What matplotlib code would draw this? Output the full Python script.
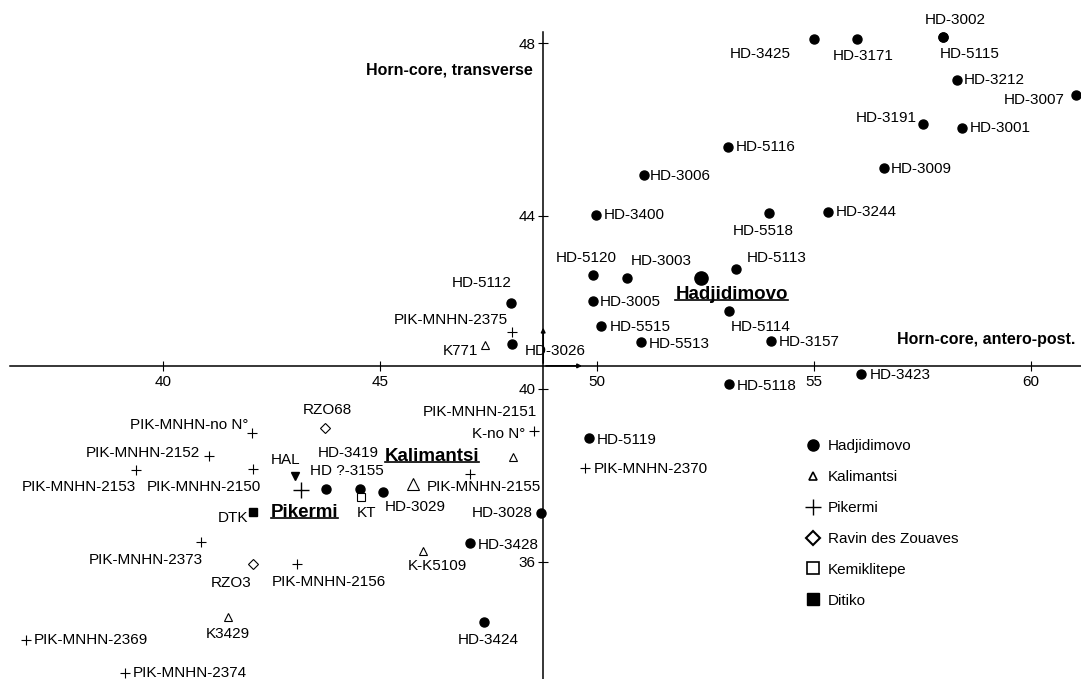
import matplotlib
matplotlib.use('Agg')
import matplotlib.pyplot as plt
from matplotlib.lines import Line2D

plt.rcParams['font.family'] = ['Liberation Sans', 'DejaVu Sans']

size = 11

# Hadjidimovo
hd_names = ['HD-3425', 'HD-3171', 'HD-3002', 'HD-5115', 'HD-3212', 'HD-3007', 'HD-3191',
            'HD-3001', 'HD-5116', 'HD-3006', 'HD-3009', 'HD-3400', 'HD-5518', 'HD-3244',
            'HD-5120', 'HD-3003', 'HD-5113', 'HD-5112', 'HD-3005', 'HD-5114', 'HD-5515',
            'HD-5513', 'HD-3157', 'HD-3026', 'HD-5118', 'HD-3423', 'HD-5119', 'HD-3028',
            'HD-3428', 'HD-3424', 'HD-3419', 'HD ?-3155', 'HD-3029']
hd_x = [54.99, 55.98, 57.98, 57.98, 58.29, 61.04, 57.51, 58.41, 53.01, 51.08, 56.61, 49.98,
        53.96, 55.32, 49.90, 50.69, 53.20, 48.01, 49.91, 53.03, 50.10, 51.01, 54.00, 48.03,
        53.04, 56.08, 49.82, 48.71, 47.07, 47.39, 43.75, 44.55, 45.06]
hd_y = [48.09, 48.09, 48.14, 48.14, 47.15, 46.80, 46.13, 46.04, 45.59, 44.95, 45.10, 44.02,
        44.08, 44.10, 42.63, 42.56, 42.78, 41.99, 42.03, 41.80, 41.46, 41.08, 41.11, 41.03,
        40.12, 40.34, 38.87, 37.13, 36.42, 34.61, 37.67, 37.69, 37.62]
hd_mean = (52.39, 42.57)

# Kalimantsi
kal_names = ['K771', 'K-no N°', 'K-K5109', 'K3429']
kal_x = [47.43, 48.06, 46.00, 41.49]
kal_y = [41.01, 38.43, 36.25, 34.72]
kal_mean = (45.76, 37.80)

# Pikermi
pik_names = ['PIK-MNHN-2375', 'PIK-MNHN-2151', 'PIK-MNHN-no N°', 'PIK-MNHN-2152',
             'PIK-MNHN-2153', 'PIK-MNHN-2150', 'PIK-MNHN-2155', 'PIK-MNHN-2370',
             'PIK-MNHN-2373', 'PIK-MNHN-2156', 'PIK-MNHN-2369', 'PIK-MNHN-2374']
pik_x = [48.04, 48.54, 42.06, 41.07, 39.38, 42.07, 47.07, 49.72, 40.87, 43.08, 36.84, 39.12]
pik_y = [41.32, 39.03, 38.97, 38.44, 38.12, 38.14, 38.02, 38.16, 36.45, 35.94, 34.19, 33.41]
pik_mean = (43.17, 37.66)

# Ravin des Zouaves, Kemiklitepe, Ditiko, HAL
rzo_names = ['RZO68', 'RZO3']
rzo_x = [43.74, 42.08]
rzo_y = [39.09, 35.94]
kt_names = ['KT']
kt_x = [44.56]
kt_y = [37.49]
dtk_names = ['DTK']
dtk_x = [42.08]
dtk_y = [37.14]
hal_names = ['HAL']
hal_x = [43.05]
hal_y = [37.98]

# axis crossing and small arrows on the axes
axis_x = 48.76
axis_y = 40.53
arrow_x = 49.72
arrow_y = 41.48

xticks = [40, 45, 50, 55, 60]
yticks = [36, 40, 44, 48]

# label offsets in pixels (dx, dy, ha)
offs = {
    'HD-3425': (-53, -15, 'center'), 'HD-3171': (7, -17, 'center'),
    'HD-3002': (12, 17, 'center'), 'HD-5115': (26, -17, 'center'),
    'HD-3212': (7, 0, 'left'), 'HD-3007': (-12, -5, 'right'),
    'HD-3191': (-6, 6, 'right'), 'HD-3001': (8, 0, 'left'),
    'HD-5116': (8, 0, 'left'), 'HD-3006': (6, -1, 'left'),
    'HD-3009': (7, -1, 'left'), 'HD-3400': (8, 0, 'left'),
    'HD-5518': (-6, -18, 'center'), 'HD-3244': (8, 0, 'left'),
    'HD-5120': (-6, 17, 'center'), 'HD-3003': (34, 17, 'center'),
    'HD-5113': (41, 11, 'center'), 'HD-5112': (-29, 20, 'center'),
    'HD-3005': (7, -1, 'left'), 'HD-5114': (32, -16, 'center'),
    'HD-5515': (8, -1, 'left'), 'HD-5513': (8, -2, 'left'),
    'HD-3157': (8, -1, 'left'), 'HD-3026': (44, -7, 'center'),
    'HD-5118': (8, -2, 'left'), 'HD-3423': (9, -1, 'left'),
    'HD-5119': (8, -2, 'left'), 'HD-3028': (-8, 0, 'right'),
    'HD-3428': (8, -2, 'left'), 'HD-3424': (5, -18, 'center'),
    'HD-3419': (22, 36, 'center'), 'HD ?-3155': (-14, 18, 'center'),
    'HD-3029': (33, -15, 'center'),
    'K771': (-7, -6, 'right'), 'K-no N°': (12, 23, 'right'),
    'K-K5109': (14, -15, 'center'), 'K3429': (0, -17, 'center'),
    'PIK-MNHN-2375': (-4, 12, 'right'), 'PIK-MNHN-2151': (3, 19, 'right'),
    'PIK-MNHN-no N°': (-4, 8, 'right'), 'PIK-MNHN-2152': (-9, 3, 'right'),
    'PIK-MNHN-2153': (-57, -17, 'center'), 'PIK-MNHN-2150': (-49, -18, 'center'),
    'PIK-MNHN-2155': (-43, -13, 'left'), 'PIK-MNHN-2370': (9, -1, 'left'),
    'PIK-MNHN-2373': (-55, -18, 'center'), 'PIK-MNHN-2156': (32, -18, 'center'),
    'PIK-MNHN-2369': (8, 0, 'left'), 'PIK-MNHN-2374': (8, 0, 'left'),
    'RZO68': (2, 18, 'center'), 'RZO3': (-22, -19, 'center'),
    'KT': (6, -16, 'center'), 'DTK': (-5, -6, 'right'), 'HAL': (-10, 16, 'center'),
}

fig = plt.figure(figsize=(10.81, 6.79), dpi=100)
ax = fig.add_axes([0, 0, 1, 1])
ax.set_xlim(36.244, 61.152)
ax.set_ylim(33.282, 49.0)

for s in ['top', 'right']:
    ax.spines[s].set_visible(False)
ax.spines['left'].set_position(('data', axis_x))
ax.spines['bottom'].set_position(('data', axis_y))
ax.spines['left'].set_bounds(33.282, 48.26)
ax.spines['bottom'].set_bounds(36.47, 61.152)
ax.spines['left'].set_linewidth(1.1)
ax.spines['bottom'].set_linewidth(1.1)

ax.set_xticks(xticks)
ax.set_yticks(yticks)
ax.tick_params(direction='inout', length=7, width=0.8, labelsize=size)
ax.tick_params(axis='x', pad=3)
ax.tick_params(axis='y', pad=2)

def group(names, xs, ys, **kw):
    ax.plot(xs, ys, linestyle='none', color='black', zorder=3, **kw)
    for n, x, y in zip(names, xs, ys):
        dx, dy, ha = offs[n]
        ax.annotate(n, (x, y), xytext=(dx, dy), textcoords='offset pixels',
                    ha=ha, va='center', fontsize=size)

group(hd_names, hd_x, hd_y, marker='o', ms=6.5)
group(kal_names, kal_x, kal_y, marker='^', ms=6, mfc='white', mec='black', mew=0.8)
group(pik_names, pik_x, pik_y, marker='+', ms=7, mew=0.8)
group(rzo_names, rzo_x, rzo_y, marker='D', ms=5, mfc='white', mec='black', mew=0.8)
group(kt_names, kt_x, kt_y, marker='s', ms=5.5, mfc='white', mec='black', mew=0.8)
group(dtk_names, dtk_x, dtk_y, marker='s', ms=6)
group(hal_names, hal_x, hal_y, marker='v', ms=6)

# group means
ax.plot(*hd_mean, marker='o', ms=9.5, color='black', zorder=3)
ax.plot(*kal_mean, marker='^', ms=9, mfc='white', mec='black', mew=0.8, zorder=3)
ax.plot(*pik_mean, marker='+', ms=12, mew=1.0, color='black', zorder=3)

glabels = []
for txt, pos, d in [('Hadjidimovo', hd_mean, (31, -17)),
                    ('Kalimantsi', kal_mean, (19, 27)),
                    ('Pikermi', pik_mean, (4, -23))]:
    t = ax.annotate(txt, pos, xytext=d, textcoords='offset pixels', ha='center',
                    va='center', fontsize=13.5, fontweight='bold')
    glabels.append(t)

# small arrows on the axes
ax.annotate('', xy=(axis_x, arrow_y), xytext=(axis_x, axis_y),
            arrowprops=dict(arrowstyle='-|>', color='black', lw=1.2, mutation_scale=6))
ax.annotate('', xy=(arrow_x, axis_y), xytext=(axis_x, axis_y),
            arrowprops=dict(arrowstyle='-|>', color='black', lw=1.2, mutation_scale=6))

ax.text(0.493, 0.897, 'Horn-core, transverse', transform=ax.transAxes, ha='right',
        va='center', fontsize=11.5, fontweight='bold')
ax.text(0.9945, 0.4993, 'Horn-core, antero-post.', transform=ax.transAxes, ha='right',
        va='center', fontsize=11.5, fontweight='bold')

handles = [
    Line2D([], [], ls='none', marker='o', ms=8, color='black'),
    Line2D([], [], ls='none', marker='^', ms=6, mfc='white', mec='black', mew=1.2),
    Line2D([], [], ls='none', marker='+', ms=12, mew=1.0, color='black'),
    Line2D([], [], ls='none', marker='D', ms=7.5, mfc='white', mec='black', mew=1.5),
    Line2D([], [], ls='none', marker='s', ms=8, mfc='white', mec='black', mew=1.2),
    Line2D([], [], ls='none', marker='s', ms=8, color='black'),
]
leg_labels = ['Hadjidimovo', 'Kalimantsi', 'Pikermi', 'Ravin des Zouaves', 'Kemiklitepe', 'Ditiko']
ax.legend(handles, leg_labels, loc='upper left', bbox_to_anchor=(0.7447, 0.3535),
          frameon=False, fontsize=size, labelspacing=1.11, handlelength=1.0,
          handletextpad=0.5, borderpad=0, borderaxespad=0)

# underline group labels
fig.canvas.draw()
W, H = fig.bbox.width, fig.bbox.height
for t in glabels:
    bb = t.get_window_extent()
    yl = (bb.y0 + 0.2 * bb.height) / H
    fig.add_artist(Line2D([bb.x0 / W, bb.x1 / W], [yl, yl], color='black', lw=1.2,
                          transform=fig.transFigure))

plt.savefig('out.png', dpi=100)
